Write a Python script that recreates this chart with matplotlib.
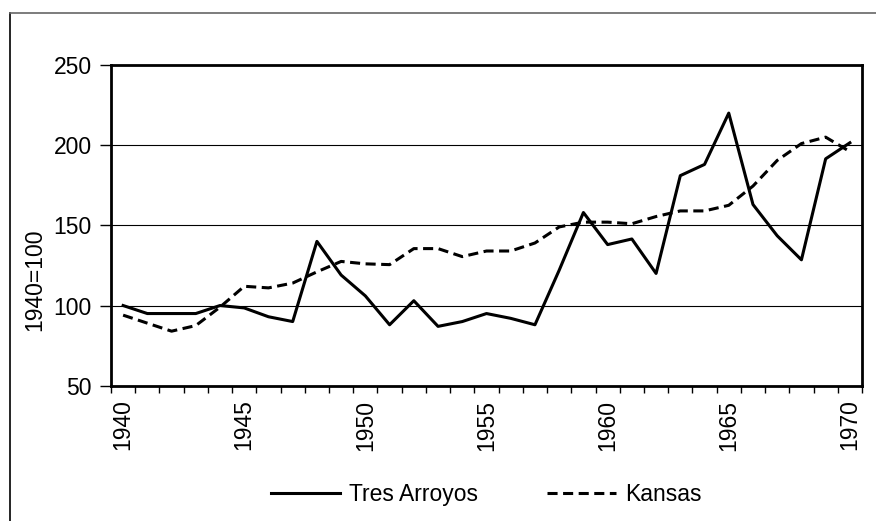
import matplotlib
matplotlib.use('Agg')
import matplotlib.pyplot as plt
from matplotlib.lines import Line2D

plt.rcParams['font.family'] = ['Liberation Sans', 'DejaVu Sans']

years = list(range(1940, 1971))
tres_arroyos = [100, 95, 95, 95, 100, 98.5, 93, 90, 140, 119, 106, 88, 103, 87, 90, 95,
                92, 88, 122, 158, 138, 141.5, 120, 181, 188, 220, 163, 143.5, 128.5, 191.5, 201.5]
kansas = [94, 89, 84, 87.5, 99, 112, 111, 114, 121, 127.5, 126, 125.5, 135.5, 135.5, 130.5, 134,
          134, 139, 149, 152, 152, 151, 155.5, 159, 159, 162.5, 174.5, 190.5, 201, 205, 196]
y_ticks = [50, 100, 150, 200, 250]

fig = plt.figure(figsize=(8.76, 5.21), dpi=100)
ax = fig.add_axes([111 / 876, 1 - 385.7 / 521, 751 / 876, 320.7 / 521])

x = list(range(len(years)))
ax.plot(x, tres_arroyos, color='black', lw=2.2, label='Tres Arroyos')
ax.plot(x, kansas, color='black', lw=2.2, linestyle=(0, (3.3, 1.8)), label='Kansas')

ax.set_xlim(-0.5, len(years) - 0.5)
ax.set_ylim(50, 250)
ax.set_yticks(y_ticks)
ax.yaxis.grid(True, color='black', lw=0.8)
ax.set_axisbelow(True)

# category labels every 5 years, tick marks between categories
lab_pos = [i for i, yr in enumerate(years) if yr % 5 == 0]
ax.set_xticks(lab_pos)
ax.set_xticklabels([str(years[i]) for i in lab_pos], rotation=90)
ax.set_xticks([i - 0.5 for i in range(len(years) + 1)], minor=True)
ax.tick_params(axis='x', which='major', length=0, pad=10, labelsize=16.5)
ax.tick_params(axis='x', which='minor', length=5, width=1, direction='out')
ax.tick_params(axis='y', length=8, width=1, labelsize=16.5, pad=6)

for s in ax.spines.values():
    s.set_linewidth(2)

# axis title sits a bit below the middle, as in the original
fig.text(35 / 876, 1 - 280 / 521, '1940=100', rotation=90, ha='center', va='center',
         fontsize=16.5)

ax.legend(loc='center', bbox_to_anchor=(0.5, -0.338), ncol=2, frameon=False,
          fontsize=16.5, handlelength=3.0, handletextpad=0.4, columnspacing=3.0)

# outer chart frame (left and top only)
fig.add_artist(Line2D([10 / 876, 10 / 876], [0, 1 - 13 / 521], color='black', lw=1.2))
fig.add_artist(Line2D([10 / 876, 1], [1 - 13 / 521, 1 - 13 / 521], color='#666666', lw=1.2))

fig.savefig('out.png', dpi=100)
